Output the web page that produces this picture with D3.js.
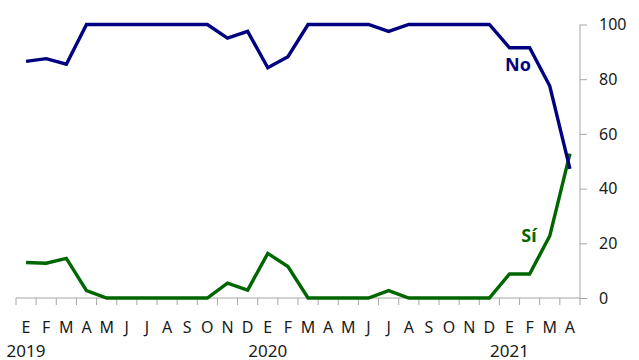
<!DOCTYPE html>
<html><head><meta charset="utf-8">
<script src="https://cdn.jsdelivr.net/npm/d3@7"></script>
<style>body{margin:0;background:#fff}svg{display:block}text{font-family:"Noto Sans",sans-serif}</style>
</head><body><svg id="c" width="639" height="360"></svg>
<script>
const months = ["E","F","M","A","M","J","J","A","S","O","N","D","E","F","M","A","M","J","J","A","S","O","N","D","E","F","M","A"];
const years = [{label:"2019", idx:0},{label:"2020", idx:12},{label:"2021", idx:24}];
const noValues = [86.5,87.5,85.5,100,100,100,100,100,100,100,95,97.5,84.2,88.2,100,100,100,100,97.5,100,100,100,100,100,91.5,91.5,77.5,47.2];
const siValues = [13,12.7,14.5,2.7,0,0,0,0,0,0,5.4,2.9,16.3,11.5,0,0,0,0,2.7,0,0,0,0,0,8.8,8.8,22.7,52.8];
const yTicks = [0,20,40,60,80,100];

const svg = d3.select("#c");
const keys = months.map((m,i)=>i);
const x = d3.scaleBand().domain(keys).range([16,580]);
const y = d3.scaleLinear().domain([0,100]).range([298,24.5]);
const cx = i => x(i)+x.bandwidth()/2;

// bottom axis
const gx = svg.append("g").attr("transform","translate(0,298)");
gx.append("line").attr("x1",16).attr("x2",580).attr("stroke","#a6a6a6").attr("stroke-width",1);
const bounds = d3.range(months.length+1).map(i => 16 + i*x.step());
gx.selectAll("line.t").data(bounds).join("line").attr("class","t")
  .attr("x1",d=>d).attr("x2",d=>d).attr("y1",0).attr("y2",7).attr("stroke","#a6a6a6");
gx.selectAll("text.m").data(keys).join("text").attr("class","m")
  .attr("x",d=>cx(d)).attr("y",35).attr("text-anchor","middle")
  .attr("font-size",16).attr("fill","#1a1a1a").text(d=>months[d]);
gx.selectAll("text.yr").data(years).join("text").attr("class","yr")
  .attr("x",d=>cx(d.idx)).attr("y",59).attr("text-anchor","middle")
  .attr("font-size",17).attr("fill","#1a1a1a").text(d=>d.label);

// right axis
const yAxis = d3.axisRight(y).tickValues(yTicks).tickSize(7).tickPadding(12);
const gy = svg.append("g").attr("transform","translate(580,0)").call(yAxis);
gy.select(".domain").attr("stroke","#a6a6a6").attr("d","M0,"+y(100)+"V"+y(0));
gy.selectAll(".tick line").attr("stroke","#a6a6a6");
gy.selectAll(".tick text").attr("font-size",16).attr("fill","#1a1a1a").attr("font-family","Noto Sans");

const line = d3.line().x((d,i)=>cx(i)).y(d=>y(d));
svg.append("path").datum(siValues).attr("d",line).attr("fill","none")
  .attr("stroke","#006600").attr("stroke-width",3.4).attr("stroke-linejoin","miter");
svg.append("path").datum(noValues).attr("d",line).attr("fill","none")
  .attr("stroke","#000080").attr("stroke-width",3.4).attr("stroke-linejoin","miter");

svg.append("text").attr("x",518).attr("y",71).attr("text-anchor","middle")
  .attr("font-size",18).attr("font-weight","bold").attr("fill","#000080").text("No");
svg.append("text").attr("x",529).attr("y",242).attr("text-anchor","middle")
  .attr("font-size",18).attr("font-weight","bold").attr("fill","#006600").text("Sí");
</script></body></html>
